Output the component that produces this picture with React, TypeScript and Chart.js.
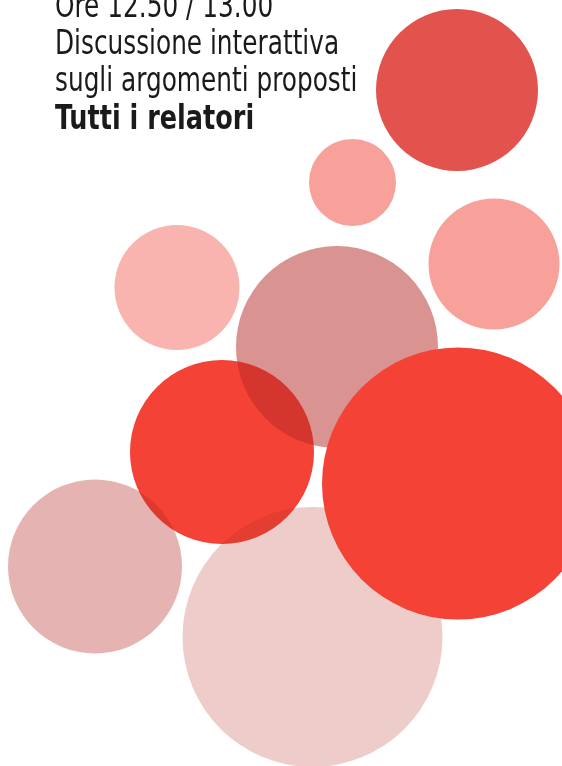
import React, { useEffect, useRef } from "react";
import { Chart, registerables } from "chart.js";

Chart.register(...registerables);

// Bubble values (x, y in scale units, r = radius)
const bubbleX = [457, 352.5, 494, 177, 222, 337, 95, 312.5, 458];
const bubbleY = [90, 182.5, 264, 287.5, 452, 347, 566.5, 637, 483.5];
const bubbleR = [81, 43.5, 65.5, 62.5, 92, 101, 87, 130, 136];

const bubbleColors = [
  "#e1534c",
  "#f8a19b",
  "#f8a19b",
  "#fab4b0",
  "#f44336",
  "rgba(180,40,35,0.5)",
  "rgba(180,40,35,0.35)",
  "rgba(180,40,35,0.24)",
  "#f44336",
];

const textLines = [
  "Ore 12.50 / 13.00",
  "Discussione interattiva",
  "sugli argomenti proposti",
];
const boldLine = "Tutti i relatori";

export default function App() {
  const ref = useRef<HTMLCanvasElement | null>(null);

  useEffect(() => {
    if (!ref.current) return;
    const data = bubbleX.map((x, i) => ({ x, y: bubbleY[i], r: bubbleR[i] }));
    const chart = new Chart(ref.current, {
      type: "bubble",
      data: {
        datasets: [
          {
            data,
            backgroundColor: bubbleColors,
            borderWidth: 0,
            hoverBorderWidth: 0,
          },
        ],
      },
      options: {
        responsive: false,
        animation: false,
        layout: { padding: 0, autoPadding: false },
        plugins: {
          legend: { display: false },
          tooltip: { enabled: false },
          title: { display: false },
        },
        events: [],
        scales: {
          x: { type: "linear", min: 0, max: 562, display: false },
          y: { type: "linear", min: 0, max: 766, reverse: true, display: false },
        },
      },
    });
    return () => chart.destroy();
  }, []);

  const lineStyle: React.CSSProperties = {
    whiteSpace: "nowrap",
    height: 37.2,
    lineHeight: "37.2px",
  };

  return (
    <div>
      <canvas
        ref={ref}
        width={562}
        height={766}
        style={{ position: "absolute", left: 0, top: 0, width: 562, height: 766 }}
      />
      <div
        style={{
          position: "absolute",
          left: 55,
          top: -13,
          fontFamily: "'DejaVu Sans Condensed', 'DejaVu Sans', sans-serif",
          fontSize: 33,
          color: "#1a1a1a",
        }}
      >
        {textLines.map((t) => (
          <div key={t} style={lineStyle}>
            <span style={{ display: "inline-block", transform: "scaleX(0.835)", transformOrigin: "left top" }}>{t}</span>
          </div>
        ))}
        <div style={{ ...lineStyle, fontWeight: "bold" }}>
          <span style={{ display: "inline-block", transform: "scaleX(0.86)", transformOrigin: "left top" }}>{boldLine}</span>
        </div>
      </div>
    </div>
  );
}
